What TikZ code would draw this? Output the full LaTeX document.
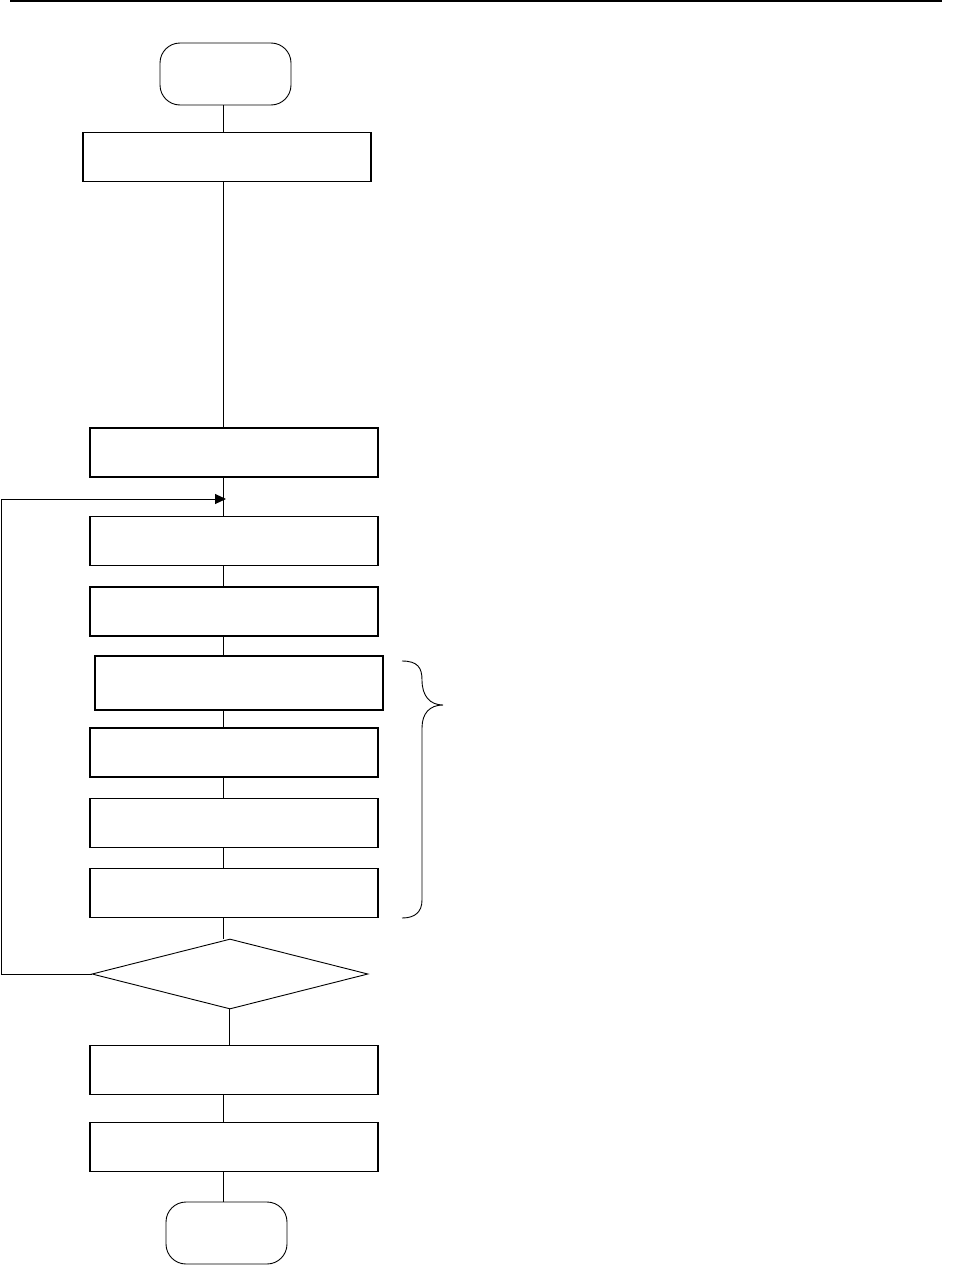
\documentclass[tikz,border=0pt]{standalone}
\usetikzlibrary{arrows.meta,shapes.geometric}
\begin{document}
\begin{tikzpicture}[x=1pt,y=-1pt,
  procbox/.style={draw,line width=1.3pt,rectangle,inner sep=0pt,minimum width=288pt,minimum height=49pt},
  term/.style={draw,line width=0.9pt,rectangle,rounded corners=20pt,inner sep=0pt,minimum height=62pt},
  decide/.style={draw,line width=0.9pt,diamond,aspect=3.94,inner sep=0pt,minimum width=276pt,minimum height=70pt},
  conn/.style={draw,line width=0.8pt}]
\useasboundingbox (0,0) rectangle (955,1266);
\draw[line width=1.6pt] (10,1) coordinate (tl) -- (942,1) coordinate (tr);
\coordinate (spine) at (223,0);
\coordinate (spineb) at (229,0);
\node[term,minimum width=131pt] (start) at (225.5,74) {};
\node[procbox] (b1) at (227,157) {};
\node[procbox] (b2) at (234,452.5) {};
\node[procbox] (b3) at (234,541) {};
\node[procbox] (b4) at (234,611.5) {};
\node[procbox,minimum height=54pt] (b5) at (239,683) {};
\node[procbox] (b6) at (234,752.5) {};
\node[procbox] (b7) at (234,823) {};
\node[procbox] (b8) at (234,893) {};
\node[decide] (d) at (230,974) {};
\node[procbox] (b9) at (234,1070) {};
\node[procbox] (b10) at (234,1147) {};
\node[term,minimum width=121pt] (end) at (226.5,1233) {};
\coordinate (merge) at (226,499);
\coordinate (loopb) at (1,974);
\coordinate (loopt) at (1,499);
\draw[conn] (start.south -| spine) -- (b1.north -| spine);
\draw[conn] (b1.south -| spine) -- (b2.north -| spine);
\draw[conn] (b2.south -| spine) -- (b3.north -| spine);
\draw[conn] (b3.south -| spine) -- (b4.north -| spine);
\draw[conn] (b4.south -| spine) -- (b5.north -| spine);
\draw[conn] (b5.south -| spine) -- (b6.north -| spine);
\draw[conn] (b6.south -| spine) -- (b7.north -| spine);
\draw[conn] (b7.south -| spine) -- (b8.north -| spine);
\draw[conn] (b8.south -| spine) -- (d.north -| spine);
\draw[conn] (d.south -| spineb) -- (b9.north -| spineb);
\draw[conn] (b9.south -| spine) -- (b10.north -| spine);
\draw[conn] (b10.south -| spine) -- (end.north -| spine);
\draw[conn,line width=1pt,-{Triangle[length=11pt,width=10pt]}] (d.west) -- (loopb) -- (loopt) -- (merge);
\draw[line width=0.9pt] (402,661) .. controls (418,661) and (422,668) .. (422,680)
  .. controls (422,696) and (430,705) .. (443,705)
  .. controls (430,705) and (422,713) .. (422,728) -- (422,900)
  .. controls (422,912) and (415,918) .. (402,918);
\end{tikzpicture}
\end{document}
